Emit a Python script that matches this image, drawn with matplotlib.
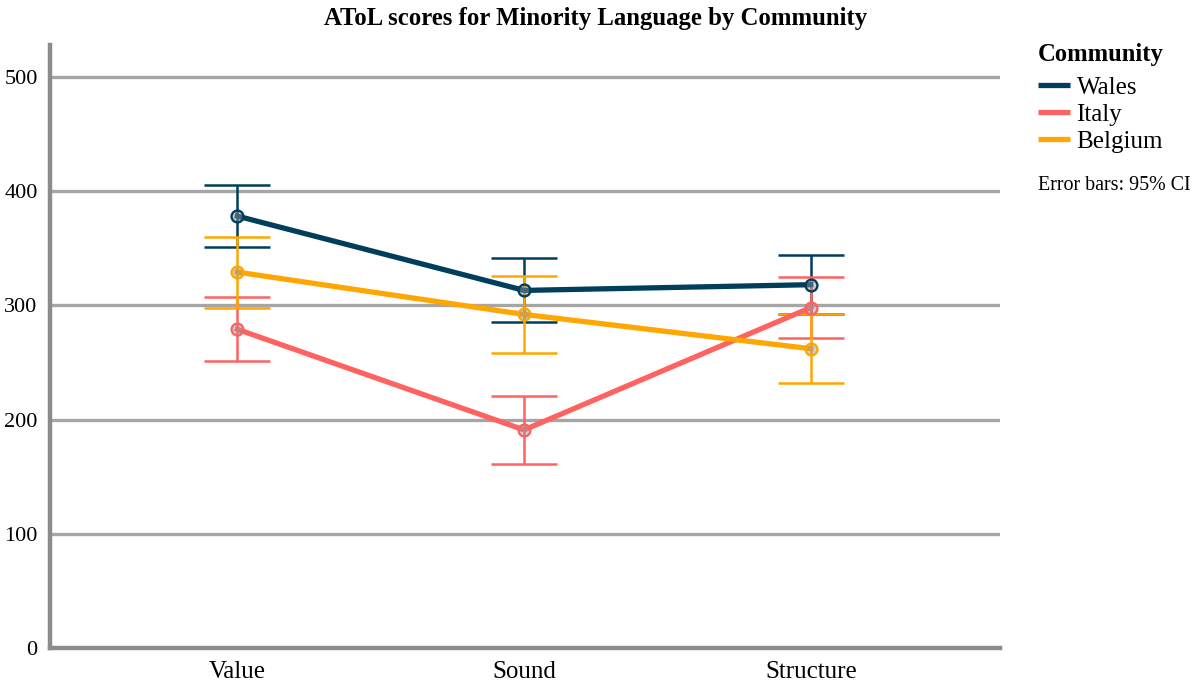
import numpy as np
import matplotlib
matplotlib.use("Agg")
import matplotlib.pyplot as plt
from matplotlib.lines import Line2D

# --- data: mean AToL scores with 95% CI half-widths ---
categories = ["Value", "Sound", "Structure"]
communities = ["Wales", "Italy", "Belgium"]
wales_mean = [378, 313, 318]
wales_ci = [27, 28, 26]
italy_mean = [279, 191, 298]
italy_ci = [28, 29.5, 27]
belgium_mean = [329, 292, 262]
belgium_ci = [31, 34, 30]
colors = ["#003f5c", "#ff6361", "#ffa600"]
y_ticks = [0, 100, 200, 300, 400, 500]

plt.rcParams["font.family"] = ["Liberation Serif", "DejaVu Serif"]

fig = plt.figure(figsize=(11.92, 6.86), dpi=100)
ax = fig.add_axes([0.042, 0.055, 0.797, 0.88])

x = np.arange(len(categories))
series = [(wales_mean, wales_ci), (italy_mean, italy_ci), (belgium_mean, belgium_ci)]

# grid first so everything sits on top
for t in y_ticks[1:]:
    ax.axhline(t, color="#a6a6a6", lw=2.4, zorder=1)

for i, ((mean, ci), col) in enumerate(zip(series, colors)):
    ax.errorbar(x, mean, yerr=ci, fmt="none", ecolor=col, elinewidth=1.8,
                capsize=23.5, capthick=1.8, zorder=2 + i)
for i, ((mean, ci), col) in enumerate(zip(series, colors)):
    ax.plot(x, mean, color=col, lw=3.8, zorder=6 + i)
    ax.plot(x, mean, ls="none", marker="o", ms=8.5, mec=col, mew=1.7,
            mfc=(0.6, 0.6, 0.6, 0.45), zorder=10 + i)

ax.set_xlim(-0.653, 2.66)
ax.set_ylim(0, 528)
ax.set_xticks(x)
ax.set_xticklabels(categories, fontsize=18)
ax.set_yticks(y_ticks)
ax.set_yticklabels([str(t) for t in y_ticks], fontsize=16)
ax.tick_params(length=0, pad=9)
ax.tick_params(axis="x", pad=9)

for s in ["top", "right"]:
    ax.spines[s].set_visible(False)
for s in ["left", "bottom"]:
    ax.spines[s].set_color("#8c8c8c")
    ax.spines[s].set_linewidth(3.2)

fig.suptitle("AToL scores for Minority Language by Community",
             fontsize=17.8, fontweight="bold", x=0.5, y=0.99, va="top")

# legend on the right
fig.text(0.871, 0.92, "Community", fontsize=17.7, fontweight="bold", va="center")
handles = [Line2D([0], [0], color=c, lw=3.8, solid_capstyle="butt") for c in colors]
fig.legend(handles, communities, loc="upper left",
           bbox_to_anchor=(0.871, 0.889), frameon=False, fontsize=18,
           handlelength=1.28, handletextpad=0.25, labelspacing=0.18,
           borderaxespad=0, borderpad=0)
fig.text(0.871, 0.73, "Error bars: 95% CI", fontsize=14.4, va="center")

fig.savefig("out.png", dpi=100)
